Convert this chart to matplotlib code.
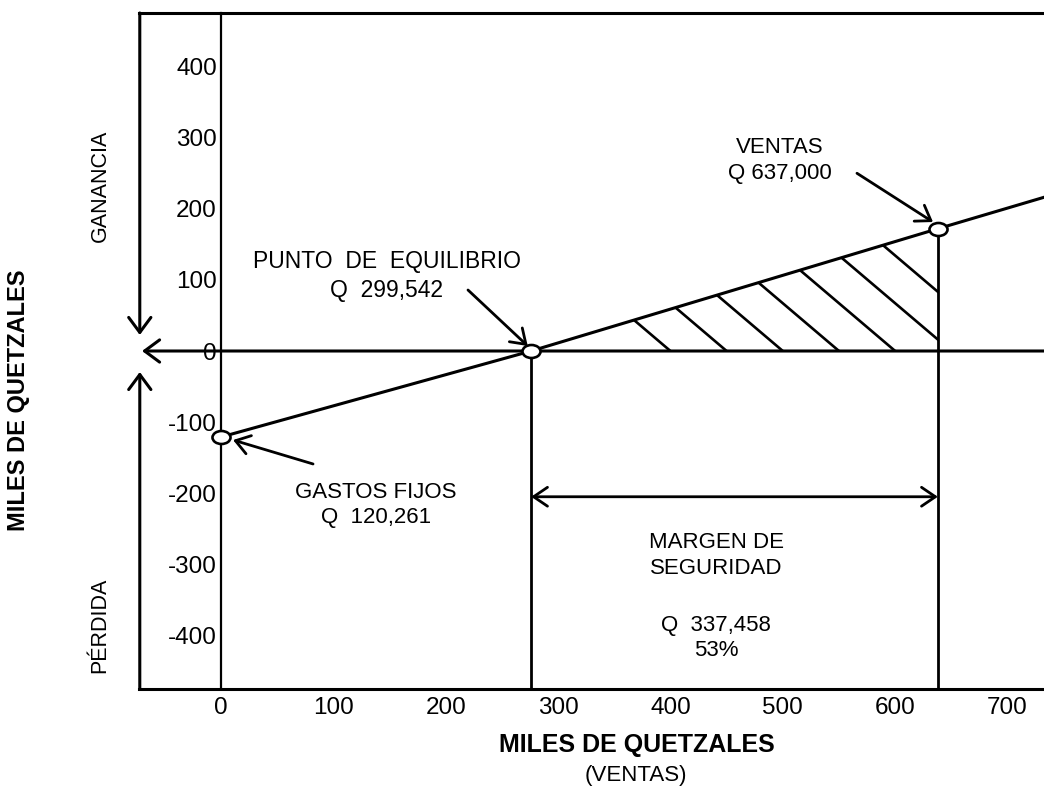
import numpy as np
import matplotlib
matplotlib.use("Agg")
import matplotlib.pyplot as plt
from matplotlib.path import Path
from matplotlib.patches import Polygon

plt.rcParams["font.family"] = ["Liberation Sans", "DejaVu Sans"]

# ---- values (miles de quetzales) ----
X_TICKS = [0, 100, 200, 300, 400, 500, 600, 700]
Y_TICKS = [400, 300, 200, 100, 0, -100, -200, -300, -400]

# profit line: fixed costs -> break-even -> sales -> right edge
LINE_X = [0, 276, 638, 747]
LINE_Y = [-121, 0, 172, 223]

# marked points: gastos fijos, punto de equilibrio, ventas
POINT_X = [0, 276, 638]
POINT_Y = [-121, 0, 172]

BREAKEVEN_X = 276
SALES_X = 638
SALES_Y = 172

# hatch inside the profit triangle (style only)
HATCH_START, HATCH_STOP, HATCH_STEP = 400, 700, 50
HATCH_SLOPE = 1.343

XLIM = (-73.0, 746.7)
YLIM = (-475.4, 475.4)

W, H = 1044, 790
fig = plt.figure(figsize=(W / 100, H / 100), dpi=100)
ax = fig.add_axes([139 / W, 1 - 689 / H, (1060 - 139) / W, (689 - 13) / H])
ax.set_xlim(*XLIM)
ax.set_ylim(*YLIM)

ax.spines["right"].set_visible(False)
ax.spines["left"].set_position(("data", 0))
ax.spines["left"].set_linewidth(1.6)
ax.spines["top"].set_linewidth(2.2)
ax.spines["bottom"].set_linewidth(2.2)

ax.set_xticks(X_TICKS)
ax.set_xticklabels([str(v) for v in X_TICKS])
ax.set_yticks(Y_TICKS)
ax.set_yticklabels([str(v) for v in Y_TICKS])
ax.tick_params(axis="both", length=0, labelsize=17.5)
ax.tick_params(axis="x", pad=6)
ax.tick_params(axis="y", pad=3)

big_head = dict(arrowstyle="->,head_length=0.54,head_width=0.4",
                mutation_scale=20, lw=2.2, color="black",
                shrinkA=0, shrinkB=0)
small_head = dict(arrowstyle="->,head_length=0.5,head_width=0.34",
                  mutation_scale=20, lw=2.0, color="black",
                  shrinkA=0, shrinkB=0)

# outer left frame with GANANCIA / PERDIDA arrows
ax.annotate("", xy=(-72.3, 22.5), xytext=(-72.3, YLIM[1]), arrowprops=big_head)
ax.annotate("", xy=(-72.3, -29.5), xytext=(-72.3, YLIM[0]), arrowprops=big_head)
# zero line with arrow to the left
ax.annotate("", xy=(-70.3, 0), xytext=(XLIM[1], 0), arrowprops=big_head)

# hatch of the profit zone, clipped to the triangle
tri = Polygon([(BREAKEVEN_X, 0), (SALES_X, 0), (SALES_X, SALES_Y)],
              closed=True, facecolor="none", edgecolor="none")
ax.add_patch(tri)
for x0 in range(HATCH_START, HATCH_STOP + 1, HATCH_STEP):
    hl, = ax.plot([x0, x0 - 300], [0, 300 * HATCH_SLOPE], color="black", lw=1.9)
    hl.set_clip_path(tri)

# vertical lines from break-even and sales down to the bottom
ax.plot([BREAKEVEN_X, BREAKEVEN_X], [0, YLIM[0]], color="black", lw=2.0)
ax.plot([SALES_X, SALES_X], [SALES_Y, YLIM[0]], color="black", lw=2.0)

# profit line
ax.plot(LINE_X, LINE_Y, color="black", lw=2.2, solid_capstyle="butt")

# open elliptic markers
circ = Path.unit_circle()
ellipse = Path(circ.vertices * np.array([1.0, 0.72]), circ.codes)
ax.plot(POINT_X, POINT_Y, linestyle="none", marker=ellipse, markersize=13,
        markerfacecolor="white", markeredgecolor="black", markeredgewidth=1.9,
        zorder=5)

# margin of safety double arrow
ax.annotate("", xy=(BREAKEVEN_X, -205), xytext=(SALES_X, -205),
            arrowprops=dict(small_head, arrowstyle="<->,head_length=0.5,head_width=0.34"))

txt = dict(fontsize=16, ha="center", va="center", linespacing=1.3)
ax.text(497, 268, "VENTAS\nQ 637,000", **txt)
ax.annotate("", xy=(633.7, 181.4), xytext=(566, 250), arrowprops=small_head)

ax.text(147.7, 105.5, "PUNTO  DE  EQUILIBRIO\nQ  299,542",
        **dict(txt, fontsize=16.5))
ax.annotate("", xy=(273, 7), xytext=(219.8, 85.8), arrowprops=small_head)

ax.text(138, -216.6, "GASTOS FIJOS\nQ  120,261", **txt)
ax.annotate("", xy=(10.7, -125.2), xytext=(81.9, -158.9), arrowprops=small_head)

ax.text(440.6, -288, "MARGEN DE\nSEGURIDAD", **txt)
ax.text(440.6, -403.7, "Q  337,458\n53%", **txt)

# outside labels
fig.text(19 / W, 1 - 400 / H, "MILES DE QUETZALES", rotation=90, fontsize=17,
         fontweight="bold", ha="center", va="center")
fig.text(100 / W, 1 - 186 / H, "GANANCIA", rotation=90, fontsize=15.5,
         ha="center", va="center")
fig.text(100 / W, 1 - 625 / H, "PÉRDIDA", rotation=90, fontsize=15.5,
         ha="center", va="center")
fig.text(637 / W, 1 - 745 / H, "MILES DE QUETZALES", fontsize=18,
         fontweight="bold", ha="center", va="center")
fig.text(636 / W, 1 - 776 / H, "(VENTAS)", fontsize=16, ha="center", va="center")

fig.savefig("out.png", dpi=100)
